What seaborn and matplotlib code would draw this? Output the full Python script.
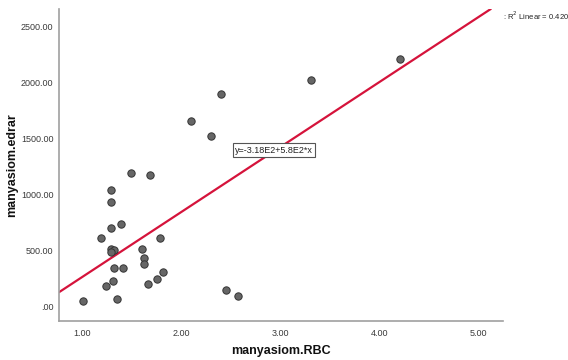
import numpy as np
import pandas as pd
import matplotlib
matplotlib.use("Agg")
import matplotlib.pyplot as plt
import seaborn as sns

# Data
rbc = [2.40, 2.10, 2.30, 1.49, 1.69, 1.29, 1.29, 1.39, 1.29, 1.19,
       1.79, 1.29, 1.32, 1.29, 1.60, 1.62, 1.62, 1.32, 1.41, 1.82,
       1.76, 1.31, 1.24, 1.67, 1.01, 1.35, 2.45, 2.57, 3.31, 4.21]
edrar = [1897, 1653, 1520, 1190, 1169, 1036, 931, 738, 697, 613,
         613, 515, 504, 483, 512, 435, 376, 343, 346, 310,
         248, 225, 183, 198, 52, 67, 144, 96, 2019, 2209]
fit_intercept = -318.0
fit_slope = 580.0
r2_text = ": R$^2$ Linear = 0.420"
eq_text = "y=-3.18E2+5.8E2*x"
x_ticks = [1, 2, 3, 4, 5]
y_ticks = [0, 500, 1000, 1500, 2000, 2500]

df = pd.DataFrame({"manyasiom.RBC": rbc, "manyasiom.edrar": edrar})

sns.set_theme(style="white")
plt.rcParams['font.family'] = ['Liberation Sans', 'DejaVu Sans']

fig = plt.figure(figsize=(5.68, 3.6), dpi=100)
ax = fig.add_axes([0.1039, 0.109, 0.885 - 0.1039, 0.975 - 0.109])

sns.scatterplot(data=df, x="manyasiom.RBC", y="manyasiom.edrar", ax=ax,
                s=28, color="#666666", edgecolor="#333333", linewidth=0.7,
                zorder=3)

ax.set_xlim(0.768, 5.241)
ax.set_ylim(-127, 2652)
ax.axline((0, fit_intercept), slope=fit_slope, color="#D5133B", lw=1.6, zorder=2)

ax.set_xticks(x_ticks)
ax.set_xticklabels([f"{v:.2f}" for v in x_ticks])
ax.set_yticks(y_ticks)
ax.set_yticklabels([".00" if v == 0 else f"{v:.2f}" for v in y_ticks])
ax.tick_params(axis="both", length=0, labelsize=6.5, labelcolor="#3a3a3a")
ax.tick_params(axis="x", pad=6)
ax.tick_params(axis="y", pad=4)

for side in ["top", "right"]:
    ax.spines[side].set_visible(False)
for side in ["left", "bottom"]:
    ax.spines[side].set_color("#A0A0A0")
    ax.spines[side].set_linewidth(1.2)

ax.set_xlabel("manyasiom.RBC", fontsize=9, fontweight="bold", color="#111111", labelpad=5)
ax.set_ylabel("manyasiom.edrar", fontsize=9, fontweight="bold", color="#111111", labelpad=2)

ax.text(2.542, 1395, eq_text, fontsize=6.5, ha="left", va="center", color="#222222",
        bbox=dict(boxstyle="square,pad=0.25", fc="white", ec="#555555", lw=0.8), zorder=4)

fig.text(503 / 568, 1 - 16 / 360, r2_text, fontsize=5.5, ha="left", va="center", color="#222222")

fig.savefig("out.png", dpi=100)
